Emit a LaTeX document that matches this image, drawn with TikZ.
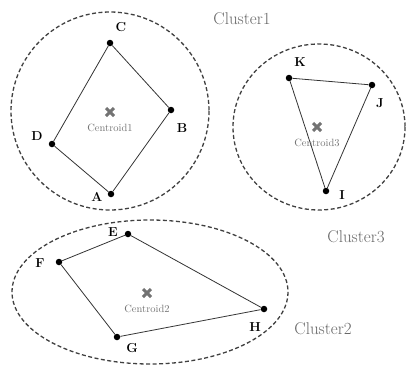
\documentclass[tikz,border=0pt]{standalone}
\begin{document}
\begin{tikzpicture}[x=1pt,y=-1pt,
    pt/.style={circle,fill=black,inner sep=0pt,minimum size=6.5pt},
    lbl/.style={font=\fontsize{13}{15}\selectfont\bfseries},
    ctxt/.style={font=\fontsize{10.5}{12}\selectfont,text=black!55},
    clname/.style={font=\fontsize{17}{20}\selectfont,text=black!60},
    edge/.style={draw=black!80,line width=0.8pt},
    bound/.style={draw=black!75,dashed,line width=1.3pt,dash pattern=on 4pt off 2.5pt}]
        \useasboundingbox (0,0) rectangle (407,367);
        % cluster outlines
        \draw[bound] (110,111) ellipse[x radius=99,y radius=99];
        \draw[bound] (319,127) ellipse[x radius=86,y radius=83];
        \draw[bound] (150,292) ellipse[x radius=138,y radius=72];
        \node[clname] (cl1) at (242,19) {Cluster1};
        \node[clname] (cl3) at (356,237) {Cluster3};
        \node[clname] (cl2) at (323,329) {Cluster2};
        % cluster 1
        \node[pt] (A) at (111,194) {};
        \node[pt] (B) at (171,110) {};
        \node[pt] (C) at (110,43) {};
        \node[pt] (D) at (52,144) {};
        \draw[edge] (A) -- (B) -- (C) -- (D) -- (A);
        \node[lbl] at (97,197) {A};
        \node[lbl] at (182,128) {B};
        \node[lbl] at (121,27) {C};
        \node[lbl] at (37,136) {D};
        % cluster 3
        \node[pt] (I) at (326,191) {};
        \node[pt] (J) at (372,85) {};
        \node[pt] (K) at (289,78) {};
        \draw[edge] (K) -- (J) -- (I) -- (K);
        \node[lbl] at (342,195) {I};
        \node[lbl] at (380,103) {J};
        \node[lbl] at (300,62) {K};
        % cluster 2
        \node[pt] (E) at (128,234) {};
        \node[pt] (F) at (59,262) {};
        \node[pt] (G) at (117,337) {};
        \node[pt] (H) at (264,309) {};
        \draw[edge] (E) -- (F) -- (G) -- (H) -- (E);
        \node[lbl] at (113,232) {E};
        \node[lbl] at (40,263) {F};
        \node[lbl] at (132,348) {G};
        \node[lbl] at (255,327) {H};
        % centroids
        \foreach \n/\x/\y in {1/110/112, 3/317/127, 2/147/293} {
            \draw[black!55,line width=3pt] (\x-4,\y-4) -- (\x+4,\y+4) (\x-4,\y+4) -- (\x+4,\y-4);
            \node[ctxt] (c\n) at (\x,\y+16) {Centroid\n};
        }
    \end{tikzpicture}
\end{document}
